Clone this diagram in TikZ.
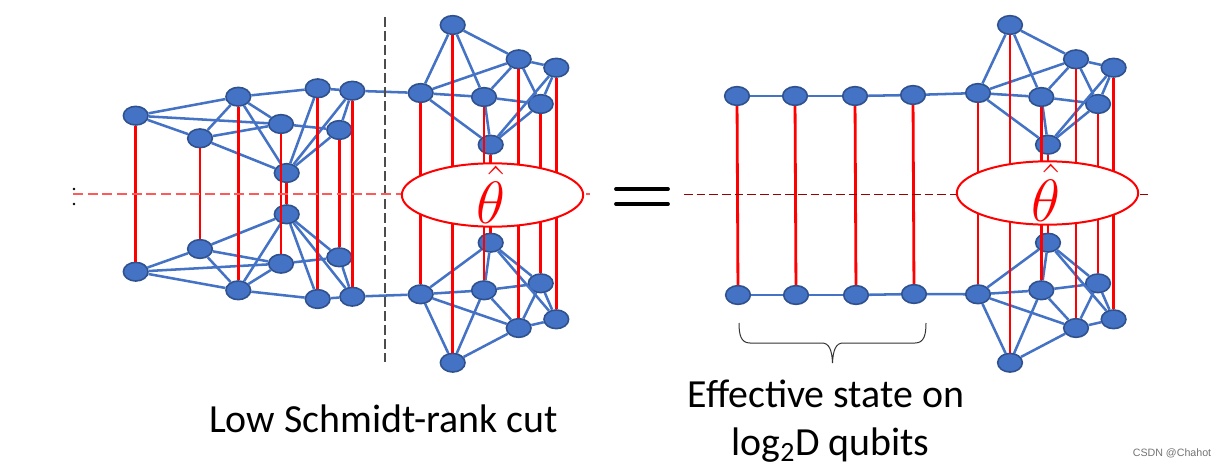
\documentclass[tikz,border=0pt]{standalone}
\usepackage{fontspec}
\setmainfont{Carlito}
\newfontfamily\markfont{Liberation Sans}
\usepackage{tikz}
\usetikzlibrary{arrows.meta, positioning, decorations.pathreplacing, calc, shapes.geometric}
\definecolor{mBlue}{HTML}{4472C4}
\definecolor{mEdge}{HTML}{2F528F}
\definecolor{mRed}{HTML}{FF0000}
\begin{document}
\begin{tikzpicture}[x=0.75pt, y=-0.75pt,
      qubit/.style={ellipse, draw=mEdge, fill=mBlue, line width=1.2pt, inner sep=0pt, minimum width=18.5pt, minimum height=14pt},
      bond/.style={mBlue, line width=1.9pt},
      link/.style={mRed, line width=2.1pt},
      opbox/.style={ellipse, draw=mRed, fill=white, line width=1.5pt, inner sep=0pt, minimum width=136pt, minimum height=47.5pt},
      optext/.style={text=mRed, font=\Huge, scale=1.8, inner sep=0pt, anchor=base},
      caption/.style={font=\fontsize{29.9}{34}\selectfont, inner sep=0pt, anchor=base}]
    \useasboundingbox (0,0) rectangle (1227,467);
    % left part of the state
    \foreach \id/\x/\yt/\yb in {1/135.7/115.7/271.7, 2/200/138.3/249, 3/238.3/96.7/290.3, 4/281/124/263.7,
        5/286.7/173/214.3, 6/317.7/88.3/299, 7/339.3/130/257.3, 8/352.3/90.7/296.7} {
      \node[qubit] (lt\id) at (\x,\yt) {};
      \node[qubit] (lb\id) at (\x,\yb) {};
    }
    \foreach \p in {lt,lb} \foreach \a/\b in {1/2, 1/3, 1/4, 2/3, 2/4, 2/5, 3/4, 3/5, 3/6, 4/7, 5/6, 5/7, 5/8, 6/8, 7/8}
      \draw[bond] (\p\a) -- (\p\b);
    % the two copies of the block under the operator
    \foreach \p/\dx in {a/0, b/557.3} {
      \foreach \id/\x/\yt/\yb in {1/420.7/93/294.3, 2/452.7/25/362.7, 3/484/97/290.3, 4/490.7/144.7/242.7,
          5/518.7/59.3/328, 6/540.7/104/283.3, 7/556.3/67.7/319.3} {
        \node[qubit] (\p t\id) at ({\x+\dx},\yt) {};
        \node[qubit] (\p b\id) at ({\x+\dx},\yb) {};
      }
      \foreach \q in {t,b} \foreach \a/\b in {1/2, 1/3, 1/4, 1/5, 2/3, 2/5, 3/4, 3/5, 3/6, 4/6, 4/7, 5/6, 5/7, 6/7}
        \draw[bond] (\p\q\a) -- (\p\q\b);
      \foreach \id in {1,...,7} \draw[link] (\p t\id) -- (\p b\id);
    }
    % effective qubits
    \foreach \id/\xt/\yt/\xb/\yb in {1/737/96/738/295, 2/795/96/796/295, 3/855/96/856/295, 4/913/95/914/294} {
      \node[qubit] (mt\id) at (\xt,\yt) {};
      \node[qubit] (mb\id) at (\xb,\yb) {};
      \draw[link] (mt\id) -- (mb\id);
    }
    \foreach \q in {t,b} {
      \foreach \a/\b in {1/2, 2/3, 3/4} \draw[bond] (m\q\a) -- (m\q\b);
      \draw[bond] (m\q4) -- (b\q1);
      \draw[bond] (l\q8) -- (a\q1);
    }
    \foreach \id in {1,...,8} \draw[link] (lt\id) -- (lb\id);
    % cuts
    \coordinate (cutT) at (385,17);
    \coordinate (cutB) at (385,362);
    \coordinate (lineA) at (73,194);
    \coordinate (lineB) at (590,194);
    \coordinate (lineC) at (684,194);
    \coordinate (lineD) at (1148,194);
    \draw[black!70, line width=1pt, dash pattern=on 7.5pt off 3pt] (cutT) -- (cutB);
    \draw[mRed!65, line width=0.8pt, dash pattern=on 7.5pt off 3.5pt] (lineA) -- (lineB);
    \draw[mRed!60!black, line width=0.5pt, dash pattern=on 6.5pt off 3pt] (lineC) -- (lineD);
    \fill[black] (74,189) circle (1.1pt);
    \fill[black] (74,204) circle (1.1pt);
    % operators
    \node[opbox] (opA) at (492.5,195) {};
    \node[opbox] (opB) at (1047.5,193) {};
    \node[optext] (thetaA) at (491,223) {$\hat{\theta}$};
    \node[optext] (thetaB) at (1046,221) {$\hat{\theta}$};
    % equals sign
    \coordinate (eqA) at (616,189);
    \coordinate (eqB) at (668,189);
    \coordinate (eqC) at (616,204);
    \coordinate (eqD) at (668,204);
    \draw[black, line width=2.8pt, line cap=round] (eqA) -- (eqB);
    \draw[black, line width=2.8pt, line cap=round] (eqC) -- (eqD);
    % brace and captions
    \coordinate (brL) at (739,323);
    \coordinate (brR) at (926,323);
    \coordinate (brTip) at (832.5,363);
    \draw[black!80, line width=0.75pt] (brL) .. controls (739,335) and (741,343) .. (750,343) -- (822,343)
      .. controls (829,343) and (832,350) .. (brTip) .. controls (833,350) and (836,343) .. (843,343)
      -- (915,343) .. controls (924,343) and (926,335) .. (brR);
    \node[caption] (lowcut) at (383.5,432) {Low Schmidt-rank cut};
    \node[caption] (effA) at (826,407) {Effective state on};
    \node[caption] (effB) at (830.5,455) {log\textsubscript{2}D qubits};
    \node[text=black!55, font=\markfont\fontsize{8}{8}\selectfont, inner sep=0pt] (mark) at (1172,453) {CSDN @Chahot};
  \end{tikzpicture}
\end{document}
